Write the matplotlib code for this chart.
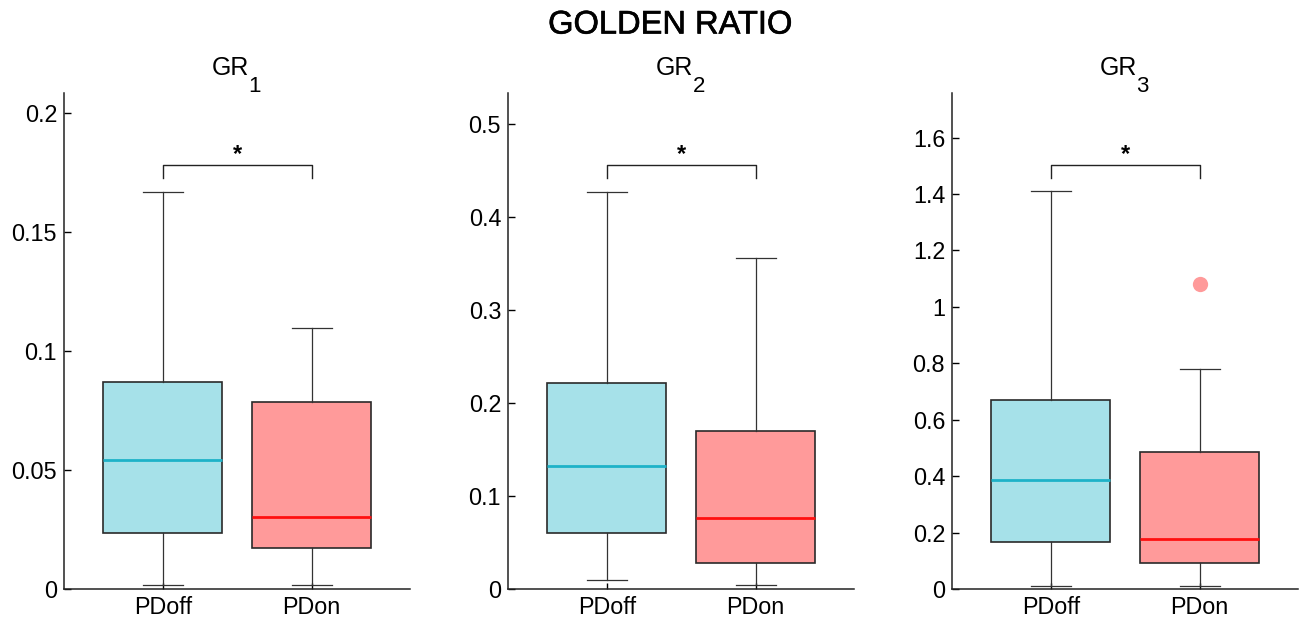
import matplotlib
matplotlib.use("Agg")
import matplotlib.pyplot as plt
import matplotlib.transforms as mtransforms
import matplotlib.patheffects as pe

plt.rcParams['font.family'] = ['Liberation Sans', 'DejaVu Sans']

suptitle = "GOLDEN RATIO"
groups = ["PDoff", "PDon"]
panel_titles = [("GR", "1"), ("GR", "2"), ("GR", "3")]

# per panel: [PDoff, PDon]
whislo = [[0.0015, 0.0015], [0.0094, 0.0038], [0.012, 0.012]]
q1 = [[0.0235, 0.0172], [0.060, 0.028], [0.165, 0.093]]
med = [[0.0543, 0.0304], [0.132, 0.0758], [0.388, 0.177]]
q3 = [[0.087, 0.0784], [0.221, 0.170], [0.671, 0.485]]
whishi = [[0.167, 0.1095], [0.427, 0.356], [1.409, 0.779]]
fliers = [[[], []], [[], []], [[], [1.08]]]

ylims = [(0, 0.2084), (0, 0.533), (0, 1.758)]
yticks = [[0, 0.05, 0.1, 0.15, 0.2], [0, 0.1, 0.2, 0.3, 0.4, 0.5],
          [0, 0.2, 0.4, 0.6, 0.8, 1, 1.2, 1.4, 1.6]]
yticklabels = [["0", "0.05", "0.1", "0.15", "0.2"],
               ["0", "0.1", "0.2", "0.3", "0.4", "0.5"],
               ["0", "0.2", "0.4", "0.6", "0.8", "1", "1.2", "1.4", "1.6"]]

fill_colors = ["#A6E1E9", "#FF9A9A"]
median_colors = ["#1EB2C8", "#FF1010"]
edge = "#2a2a2a"

W, H = 1306, 627
fig = plt.figure(figsize=(W / 100, H / 100), dpi=100)
lefts = [64, 508, 952]
for i in range(3):
    ax = fig.add_axes([lefts[i] / W, (H - 589) / H, 346 / W, (589 - 93) / H])
    stats = []
    for j in range(2):
        stats.append(dict(med=med[i][j], q1=q1[i][j], q3=q3[i][j],
                          whislo=whislo[i][j], whishi=whishi[i][j],
                          fliers=fliers[i][j], label=groups[j]))
    b = ax.bxp(stats, positions=[1, 2], widths=0.8, patch_artist=True,
               capwidths=0.27,
               boxprops=dict(edgecolor=edge, linewidth=1.2),
               whiskerprops=dict(color="#333333", linewidth=0.9),
               capprops=dict(color="#333333", linewidth=0.9),
               flierprops=dict(marker='o', markersize=11, markerfacecolor="#FF9A9A",
                               markeredgecolor="none"))
    for j, patch in enumerate(b['boxes']):
        patch.set_facecolor(fill_colors[j])
        b['medians'][j].set_color(median_colors[j])
        b['medians'][j].set_linewidth(2.0)
    ax.set_xlim(0.336, 2.66)
    ax.set_ylim(*ylims[i])
    ax.set_yticks(yticks[i])
    ax.set_yticklabels(yticklabels[i])
    ax.set_xticks([1, 2])
    ax.set_xticklabels(groups)
    ax.tick_params(direction='in', length=5, width=1, labelsize=16.8, colors='black', pad=5)
    ax.tick_params(axis='x', length=4, pad=5)
    for s in ['top', 'right']:
        ax.spines[s].set_visible(False)
    for s in ['left', 'bottom']:
        ax.spines[s].set_linewidth(1.1)
        ax.spines[s].set_color('#222222')
    # title with MATLAB-style lowered subscript
    main, sub = panel_titles[i]
    t = ax.text(0.535, 1.036, main, transform=ax.transAxes, ha='right',
                va='baseline', fontsize=18)
    ax.annotate(sub, xy=(1, 0), xycoords=t, xytext=(-0.5, 3.0),
                textcoords='offset points', ha='left', va='top', fontsize=16)
    # significance bracket
    tr = mtransforms.blended_transform_factory(ax.transData, ax.transAxes)
    ax.plot([1, 1, 2, 2], [0.829, 0.854, 0.854, 0.829], color='#222222',
            linewidth=1.0, transform=tr, clip_on=False)
    ax.text(1.5, 0.852, "*", transform=tr, ha='center', va='bottom',
            fontsize=17, fontweight='bold')

fig.text(670 / W, 1 - 25 / H, suptitle, ha='center', va='center', fontsize=23.5,
         path_effects=[pe.withStroke(linewidth=0.45, foreground='black')])
fig.savefig("out.png", dpi=100)
